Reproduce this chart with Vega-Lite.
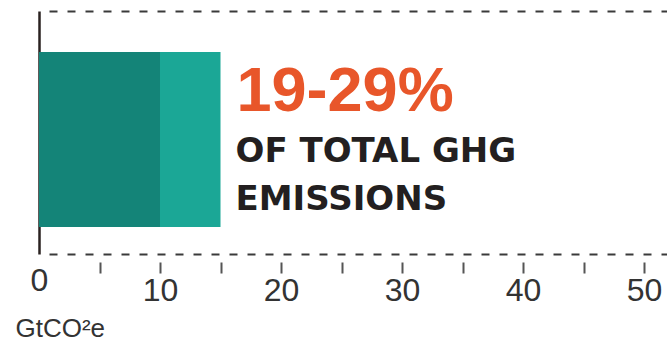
{
  "$schema": "https://vega.github.io/schema/vega-lite/v6.json",
  "width": 628,
  "height": 243,
  "autosize": {"type": "none"},
  "padding": {"left": 39, "top": 11, "right": 0, "bottom": 91},
  "background": "white",
  "config": {"view": {"stroke": null}},
  "datasets": {
    "bars": [
      {"sector": "Agriculture", "segment": "low", "start": 0, "end": 10},
      {"sector": "Agriculture", "segment": "high", "start": 10, "end": 15}
    ],
    "notes": [
      {"sector": "Agriculture", "x": 15, "share": "19-29%", "desc": ["OF TOTAL GHG", "EMISSIONS"]}
    ]
  },
  "resolve": {"axis": {"x": "independent"}},
  "layer": [
    {
      "data": {"name": "bars"},
      "mark": {"type": "bar"},
      "encoding": {
        "y": {
          "field": "sector", "type": "nominal",
          "scale": {"paddingInner": 0, "paddingOuter": 0.1943, "align": 0.603},
          "axis": {"orient": "left", "labels": false, "ticks": false, "title": null, "domainColor": "#2a2220", "domainWidth": 2.5}
        },
        "x": {
          "field": "start", "type": "quantitative",
          "scale": {"domain": [0, 51.9], "nice": false, "zero": true},
          "axis": {
            "orient": "bottom",
            "values": [0, 5, 10, 15, 20, 25, 30, 35, 40, 45, 50],
            "domainColor": "#3a3a3a", "domainWidth": 2, "domainDash": [8, 10], "domainDashOffset": 8,
            "tickSize": 19, "tickWidth": 2, "tickColor": "#555555", "tickDash": [0, 8, 11, 100],
            "tickOpacity": {"condition": {"test": "datum.value == 0", "value": 0}, "value": 1},
            "labelExpr": "datum.value % 10 == 0 ? datum.label : ''",
            "labelFont": "Liberation Sans", "labelFontSize": 32, "labelColor": "#333333",
            "labelPadding": {"condition": {"test": "datum.value == 0", "value": -8}, "value": 2},
            "labelBaseline": "top", "labelFlush": false, "labelOverlap": false,
            "grid": false,
            "title": "GtCO²e", "titleFont": "Liberation Sans", "titleFontSize": 26, "titleFontWeight": "normal",
            "titleColor": "#333333", "titleAnchor": "start", "titleAlign": "left", "titleBaseline": "alphabetic",
            "titleX": -24, "titleY": 82
          }
        },
        "x2": {"field": "end"},
        "color": {
          "field": "segment", "type": "nominal",
          "scale": {"domain": ["low", "high"], "range": ["#148478", "#1ba796"]},
          "legend": null
        }
      }
    },
    {
      "data": {"name": "notes"},
      "mark": {"type": "text", "align": "left", "baseline": "alphabetic", "dx": 16, "dy": -28.5, "font": "Liberation Sans", "fontWeight": "bold", "fontSize": 63, "color": "#e8562a"},
      "encoding": {
        "y": {"field": "sector", "type": "nominal"},
        "x": {"field": "x", "type": "quantitative", "axis": null},
        "text": {"field": "share"}
      }
    },
    {
      "data": {"name": "notes"},
      "mark": {"type": "text", "align": "left", "baseline": "alphabetic", "dx": 15, "dy": 22.5, "lineHeight": 48, "font": "DejaVu Sans", "fontWeight": "bold", "fontSize": 34, "color": "#231f20"},
      "encoding": {
        "y": {"field": "sector", "type": "nominal"},
        "x": {
          "field": "x", "type": "quantitative",
          "axis": {"orient": "top", "labels": false, "ticks": false, "title": null, "grid": false,
                   "domainColor": "#3a3a3a", "domainWidth": 2, "domainDash": [8, 10], "domainDashOffset": 8}
        },
        "text": {"field": "desc"}
      }
    }
  ]
}
